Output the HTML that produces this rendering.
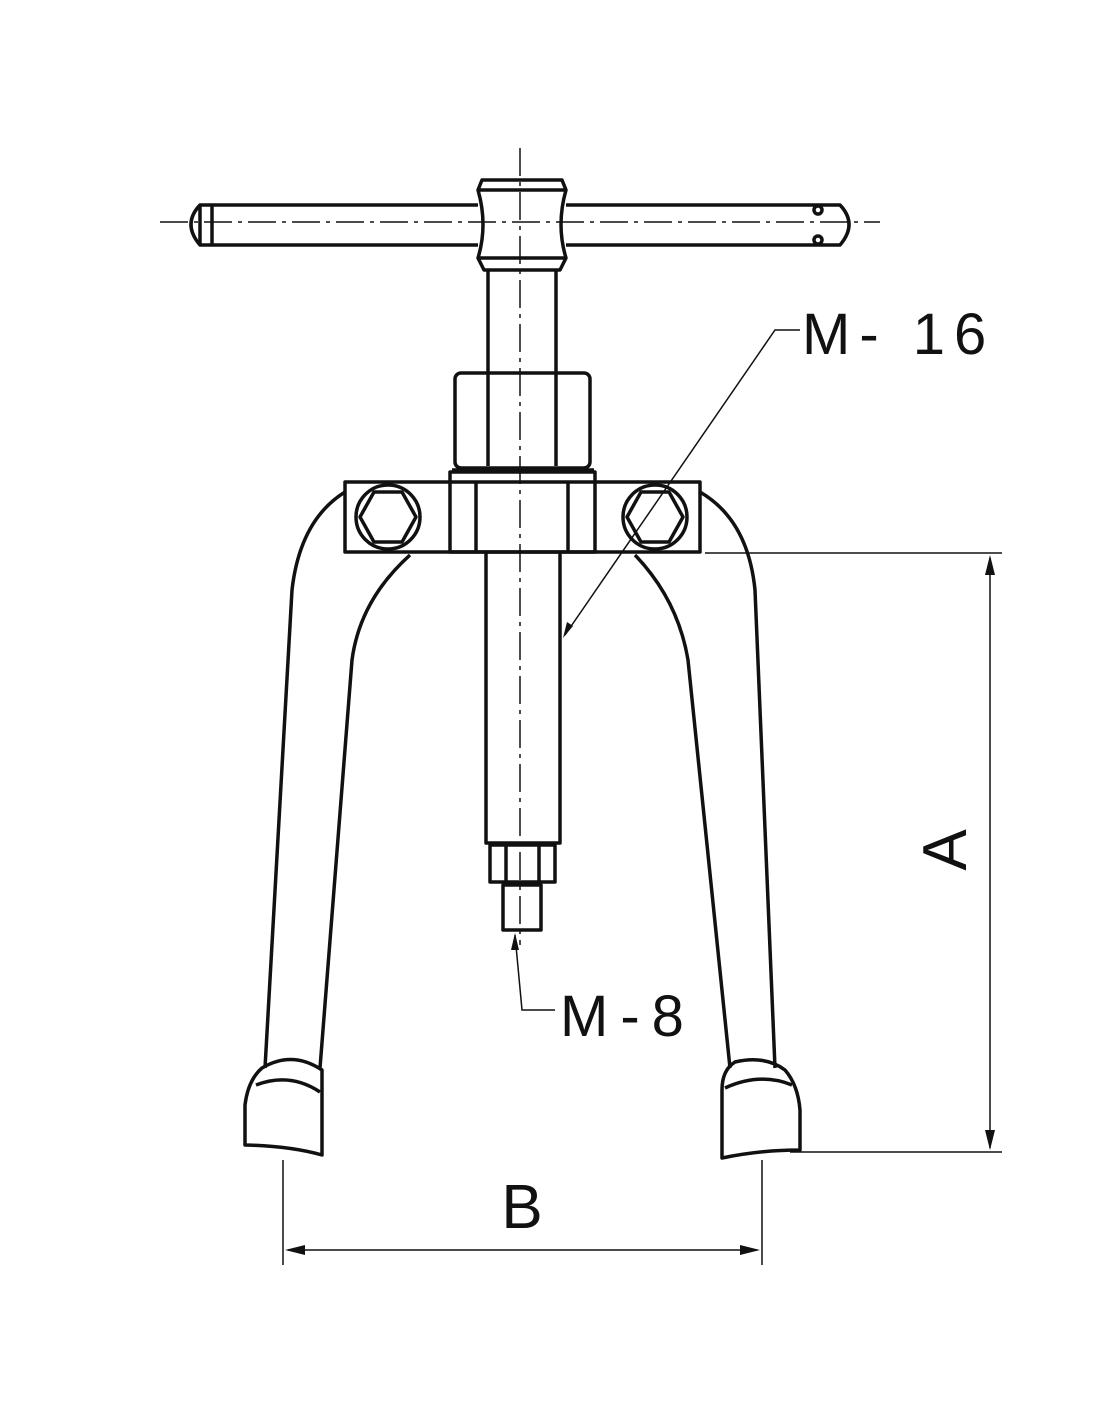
<!DOCTYPE html>
<html><head><style>body{margin:0;background:#fff}svg{display:block}</style></head><body>
<svg width="1100" height="1422" viewBox="0 0 1100 1422" xmlns="http://www.w3.org/2000/svg">
<rect width="1100" height="1422" fill="#fff"/>
<g fill="none" stroke="#111" stroke-width="3.5" stroke-linejoin="round">
<!-- T handle bar -->
<path d="M478,205 H200 Q182,224 200,245 H478"/>
<path d="M566,205 H840 Q858,224 840,245 H566"/>
<line x1="200" y1="205" x2="200" y2="245"/>
<line x1="212" y1="205" x2="212" y2="245"/>
<circle cx="818" cy="210" r="4"/><circle cx="818" cy="240" r="4"/>
<!-- hub -->
<path d="M482,180 H562 L566,190 Q556,225 566,258 L560,270 H484 L478,258 Q488,225 478,190 Z"/>
<line x1="478" y1="190" x2="566" y2="190"/>
<line x1="478" y1="258" x2="566" y2="258"/>
<!-- shaft -->
<path d="M488,270 V375 M556,270 V375"/>
<!-- nut -->
<rect x="455" y="373" width="135" height="95" rx="6"/>
<line x1="488" y1="375" x2="488" y2="466"/><line x1="556" y1="375" x2="556" y2="466"/>
<line x1="452" y1="470" x2="594" y2="470"/>
<!-- crossbar -->
<rect x="345" y="482" width="355" height="70"/>
<rect x="450" y="472" width="145" height="80"/>
<line x1="476" y1="482" x2="476" y2="552"/><line x1="568" y1="482" x2="568" y2="552"/>
<!-- bolts -->
<circle cx="388" cy="517" r="32"/>
<polygon points="374,492 402,492 416,517 402,542 374,542 360,517"/>
<circle cx="655" cy="517" r="32"/>
<polygon points="641,492 669,492 683,517 669,542 641,542 627,517"/>
<!-- lower screw -->
<path d="M486,552 V843 H560 V552"/>
<rect x="490" y="845" width="65" height="37"/>
<line x1="506" y1="845" x2="506" y2="882"/><line x1="539" y1="845" x2="539" y2="882"/>
<rect x="503" y="885" width="38" height="45"/>
<!-- left leg -->
<path d="M345,492 Q300,520 292,590 L265,1068"/>
<path d="M410,555 Q360,600 352,660 L320,1068"/>
<path d="M262,1068 Q292,1050 322,1070 L322,1155 Q290,1146 245,1145 L245,1105 Q248,1080 262,1068 Z"/>
<path d="M256,1085 Q290,1072 320,1092"/>
<!-- right leg -->
<path d="M700,492 Q748,520 755,590 L775,1068"/>
<path d="M635,555 Q678,600 688,660 L730,1068"/>
<path d="M735,1062 Q765,1055 785,1070 Q798,1085 800,1110 L800,1150 Q760,1150 722,1158 L722,1090 Q722,1070 735,1062 Z"/>
<path d="M725,1088 Q760,1072 792,1085"/>
</g>
<!-- centerlines -->
<g stroke="#111" stroke-width="1.5" stroke-dasharray="28,6,4,6" fill="none">
<line x1="520" y1="148" x2="520" y2="945"/>
<line x1="160" y1="222" x2="880" y2="222"/>
</g>
<!-- dimensions -->
<g stroke="#111" stroke-width="1.5" fill="none">
<line x1="705" y1="553" x2="1002" y2="553"/>
<line x1="790" y1="1152" x2="1002" y2="1152"/>
<line x1="990" y1="558" x2="990" y2="1148"/>
<line x1="283" y1="1160" x2="283" y2="1265"/>
<line x1="762" y1="1160" x2="762" y2="1265"/>
<line x1="288" y1="1250" x2="757" y2="1250"/>
<polyline points="565,635 775,330 800,330"/>
<polyline points="515,935 522,1010 555,1010"/>
</g>
<g fill="#111">
<polygon points="990,555 985,575 995,575"/>
<polygon points="990,1150 985,1130 995,1130"/>
<polygon points="285,1250 305,1245 305,1255"/>
<polygon points="760,1250 740,1245 740,1255"/>
<polygon points="563,638 567,622 573,626"/>
<polygon points="515,933 511,950 519,950"/>
</g>
<g font-family="Liberation Sans, sans-serif" fill="#111">
<text x="802" y="354" font-size="58" letter-spacing="9">M- 16</text>
<text x="560" y="1036" font-size="58" letter-spacing="12">M-8</text>
<text x="522" y="1228" font-size="62" text-anchor="middle">B</text>
<text x="0" y="0" font-size="62" text-anchor="middle" transform="translate(966,850) rotate(-90)">A</text>
</g>
</svg>
</body></html>
